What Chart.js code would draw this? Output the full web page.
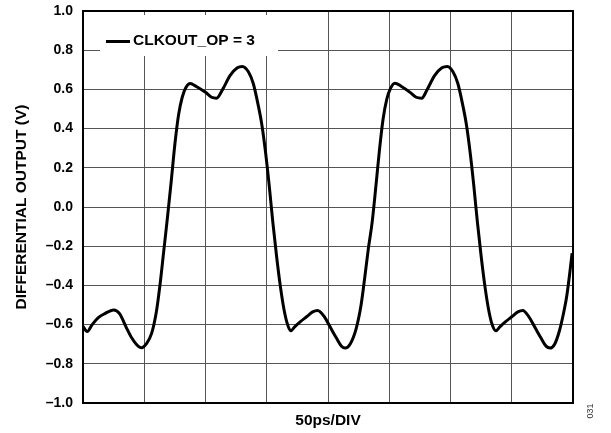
<!DOCTYPE html>
<html>
<head>
<meta charset="utf-8">
<script src="https://cdn.jsdelivr.net/npm/chart.js@4/dist/chart.umd.min.js"></script>
<style>
html,body{margin:0;padding:0;background:#fff;}
canvas{display:block;}
</style>
</head>
<body>
<canvas id="c" width="611" height="433"></canvas>
<script>
// time in ps (50 ps per division, 8 divisions)
const timePs = [
  0, 3.5, 7.5, 12.5, 17.5, 25, 30, 35, 40, 45, 48, 51.5, 56, 60, 63, 66, 69, 72, 75, 78, 81, 84, 87.5, 92.5, 100, 105, 109, 114, 120, 126, 130, 135, 139, 143, 146, 149, 152, 155, 158, 161, 164, 167, 169.5,
  173, 177.5, 182.5, 187.5, 191.5, 197, 202, 207, 211, 214, 218, 223, 227, 230, 233, 236, 239, 242, 245, 248, 251, 254.5, 260, 267, 272, 276.5, 281, 287, 293, 297.5, 302, 306, 310, 313, 316, 319, 322, 325, 328, 331, 334, 337,
  340.5, 345, 350, 355, 359, 364, 369, 374, 378, 381.25, 385, 389, 392, 395, 397.5, 399.25
];
const outputV = [
  -0.61, -0.635, -0.60, -0.565, -0.545, -0.525, -0.545, -0.61, -0.67, -0.71, -0.718, -0.70, -0.645, -0.53, -0.39, -0.22, -0.05, 0.13, 0.32, 0.47, 0.56, 0.61, 0.63, 0.615, 0.585, 0.56, 0.555, 0.60, 0.67, 0.71, 0.717, 0.69, 0.63, 0.52, 0.42, 0.28, 0.11, -0.08, -0.25, -0.40, -0.52, -0.60, -0.632,
  -0.61, -0.585, -0.56, -0.535, -0.528, -0.56, -0.615, -0.67, -0.71, -0.72, -0.70, -0.62, -0.50, -0.36, -0.21, -0.08, 0.10, 0.29, 0.45, 0.55, 0.605, 0.632, 0.615, 0.585, 0.56, 0.555, 0.60, 0.67, 0.71, 0.717, 0.69, 0.63, 0.52, 0.42, 0.28, 0.11, -0.08, -0.25, -0.40, -0.52, -0.60, -0.632,
  -0.61, -0.585, -0.56, -0.535, -0.528, -0.56, -0.615, -0.67, -0.71, -0.72, -0.70, -0.63, -0.55, -0.45, -0.33, -0.235
];
const yTicks = [-1.0, -0.8, -0.6, -0.4, -0.2, 0.0, 0.2, 0.4, 0.6, 0.8, 1.0];
const seriesName = 'CLKOUT_OP = 3';
const xTitle = '50ps/DIV';
const yTitle = 'DIFFERENTIAL OUTPUT (V)';
const figId = '031';

const FONT = '"Liberation Sans", Arial, Helvetica, sans-serif';
const points = timePs.map((t, i) => ({x: t, y: outputV[i]}));

const decor = {
  id: 'decor',
  beforeDatasetsDraw(chart) {
    const ctx = chart.ctx;
    ctx.save();
    ctx.fillStyle = '#fff';
    ctx.fillRect(100, 15, 178, 41);
    ctx.strokeStyle = '#000';
    ctx.lineWidth = 3;
    ctx.beginPath();
    ctx.moveTo(106, 41.5);
    ctx.lineTo(130, 41.5);
    ctx.stroke();
    ctx.fillStyle = '#000';
    ctx.font = 'bold 15.5px ' + FONT;
    ctx.textAlign = 'left';
    ctx.textBaseline = 'middle';
    ctx.fillText(seriesName, 133, 40.5);
    ctx.restore();
  },
  afterDraw(chart) {
    const ctx = chart.ctx;
    const a = chart.chartArea;
    ctx.save();
    ctx.strokeStyle = '#000';
    ctx.lineWidth = 2;
    ctx.strokeRect(a.left, a.top, a.right - a.left, a.bottom - a.top);
    ctx.translate(591, 411);
    ctx.rotate(-Math.PI / 2);
    ctx.fillStyle = '#333';
    ctx.font = '9px ' + FONT;
    ctx.textAlign = 'center';
    ctx.textBaseline = 'middle';
    ctx.fillText(figId, 0, 0);
    ctx.restore();
  }
};

new Chart(document.getElementById('c'), {
  type: 'line',
  data: {
    datasets: [{
      label: seriesName,
      data: points,
      borderColor: '#000',
      borderWidth: 3,
      pointRadius: 0,
      fill: false,
      cubicInterpolationMode: 'monotone'
    }]
  },
  options: {
    responsive: false,
    animation: false,
    devicePixelRatio: 1,
    layout: {padding: {left: 0, right: 38, top: 11, bottom: 0}},
    plugins: {legend: {display: false}, tooltip: {enabled: false}},
    scales: {
      x: {
        type: 'linear',
        min: 0, max: 400,
        ticks: {display: false, stepSize: 50},
        grid: {color: '#555', lineWidth: 1, drawTicks: false},
        border: {display: false},
        title: {display: true, text: xTitle, color: '#000',
                font: {family: FONT, size: 15.5, weight: 'bold'}, padding: {top: 0, bottom: 3}},
        afterFit(s) { s.height = 30; s.paddingLeft = 0; s.paddingRight = 0; }
      },
      y: {
        type: 'linear',
        min: -1, max: 1,
        afterBuildTicks(s) { s.ticks = yTicks.map(v => ({value: v})); },
        ticks: {
          color: '#000', padding: 10,
          font: {family: FONT, size: 14, weight: 'bold'},
          callback: v => (v < -1e-9 ? '\u2013' + Math.abs(v).toFixed(1) : Math.abs(v).toFixed(1))
        },
        grid: {color: '#555', lineWidth: 1, drawTicks: false},
        border: {display: false},
        title: {display: true, text: yTitle, color: '#000',
                font: {family: FONT, size: 15.5, weight: 'bold'}, padding: {top: 12, bottom: 0}},
        afterFit(s) { s.width = 83; s.paddingTop = 0; s.paddingBottom = 0; }
      }
    }
  },
  plugins: [decor]
});
</script>
</body>
</html>
